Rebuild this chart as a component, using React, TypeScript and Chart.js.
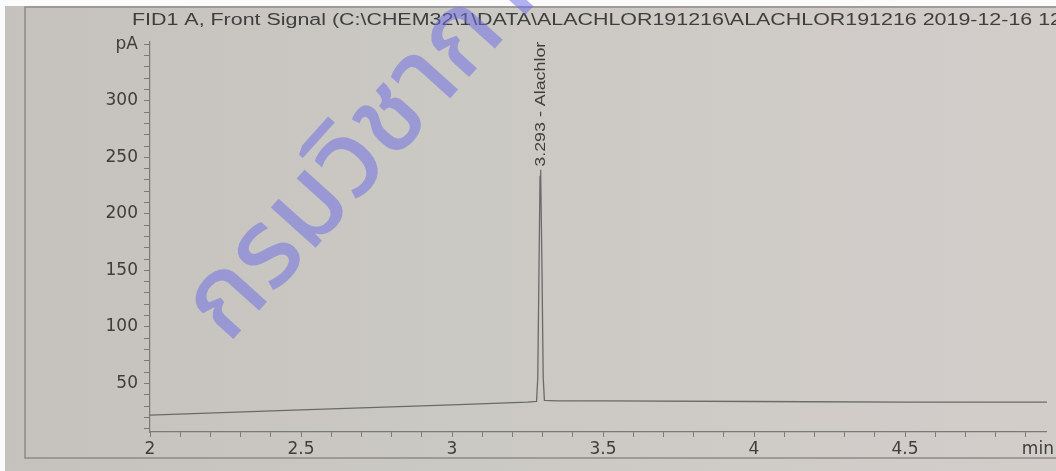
import React, { useEffect, useRef } from 'react';
import { Chart, registerables } from 'chart.js';

Chart.register(...registerables);

// ---- data ----
const titleText =
  'FID1 A, Front Signal (C:\\CHEM32\\1\\DATA\\ALACHLOR191216\\ALACHLOR191216 2019-12-16 12';
const peakLabel = '3.293 - Alachlor';
const watermarkText = 'กรมวิชาการเกษตร';

const retentionTimes = [
  2.0, 2.5, 3.0, 3.25, 3.28, 3.284, 3.288, 3.2915, 3.293, 3.2945, 3.298, 3.302, 3.306,
  3.35, 3.5, 4.0, 4.5, 4.97,
];
const signalPA = [
  22, 26.5, 31, 33.5, 34, 55, 150, 233, 239, 233, 150, 55, 35, 34.5, 34.5, 34, 33.5, 33.5,
];

const peakTime = 3.293;
const peakHeight = 239;

const xMajorTicks = [2, 2.5, 3, 3.5, 4, 4.5];
const yMajorTicks = [50, 100, 150, 200, 250, 300];
const xUnit = 'min';
const xUnitAt = 4.94;
const yUnit = 'pA';
const yUnitAt = 350;

const xMin = 2;
const xMax = 4.97;
const yMin = 7;
const yMax = 352;

const inkColor = '#3e3e3e';
const axisColor = '#7a7a7a';
const traceColor = '#6a6a6a';

const near = (a: number, b: number) => Math.abs(a - b) < 1e-6;

const decorPlugin = {
  id: 'decor',
  beforeDraw(chart: any) {
    const { ctx, width, height } = chart;
    ctx.save();
    const g = ctx.createLinearGradient(0, 0, width, 0);
    g.addColorStop(0, '#c5c2bd');
    g.addColorStop(0.45, '#cbc9c4');
    g.addColorStop(1, '#d3cdca');
    ctx.fillStyle = g;
    ctx.fillRect(0, 0, width, height);
    // paper edges
    ctx.fillStyle = '#fbfbfb';
    ctx.fillRect(0, 0, width, 6);
    ctx.fillRect(0, 0, 5, height);
    // printed frame
    ctx.strokeStyle = '#8d8b89';
    ctx.lineWidth = 1.5;
    ctx.beginPath();
    ctx.moveTo(width + 2, 7);
    ctx.lineTo(25, 7);
    ctx.lineTo(25, 458);
    ctx.lineTo(width + 2, 458);
    ctx.stroke();
    ctx.restore();
  },
  afterDraw(chart: any) {
    const { ctx } = chart;
    const xs = chart.scales.x;
    const ys = chart.scales.y;
    ctx.save();

    // title
    ctx.fillStyle = inkColor;
    ctx.font = '16px "Liberation Sans"';
    ctx.textBaseline = 'alphabetic';
    ctx.textAlign = 'left';
    const tw = ctx.measureText(titleText).width;
    ctx.save();
    ctx.translate(132, 25);
    ctx.scale(930 / tw, 1);
    ctx.fillText(titleText, 0, 0);
    ctx.restore();

    // peak annotation
    const px = xs.getPixelForValue(peakTime);
    const py = ys.getPixelForValue(peakHeight);
    ctx.save();
    ctx.font = '15px "Liberation Sans"';
    const lw = ctx.measureText(peakLabel).width;
    ctx.translate(px, py - 3);
    ctx.rotate(-Math.PI / 2);
    ctx.scale(125 / lw, 1);
    ctx.textBaseline = 'middle';
    ctx.textAlign = 'left';
    ctx.fillText(peakLabel, 0, 0);
    ctx.restore();

    // watermark
    ctx.save();
    ctx.fillStyle = 'rgba(110,110,228,0.52)';
    ctx.font = '500 110px "Noto Sans Thai", "Noto Sans", sans-serif';
    ctx.translate(228, 345);
    ctx.rotate((-48 * Math.PI) / 180);
    ctx.textBaseline = 'alphabetic';
    ctx.textAlign = 'left';
    ctx.fillText(watermarkText, 0, 0);
    ctx.restore();

    ctx.restore();
  },
};

export default function App() {
  const ref = useRef<HTMLCanvasElement | null>(null);

  useEffect(() => {
    if (!ref.current) return;
    const chart = new Chart(ref.current, {
      type: 'line',
      data: {
        datasets: [
          {
            data: retentionTimes.map((x, i) => ({ x, y: signalPA[i] })),
            borderColor: traceColor,
            borderWidth: 1.3,
            pointRadius: 0,
            tension: 0,
            fill: false,
          },
        ],
      },
      options: {
        responsive: false,
        animation: false,
        layout: { padding: { top: 42, right: 9, left: 0, bottom: 0 } },
        plugins: {
          legend: { display: false },
          tooltip: { enabled: false },
          title: { display: false },
        },
        scales: {
          x: {
            type: 'linear',
            min: xMin,
            max: xMax,
            afterBuildTicks: (s: any) => {
              const t: any[] = [];
              for (let i = 20; i <= 49; i++) t.push({ value: i / 10 });
              t.push({ value: xUnitAt });
              s.ticks = t;
            },
            afterFit: (s: any) => {
              s.height = 39;
            },
            grid: {
              drawOnChartArea: false,
              drawTicks: true,
              tickLength: 5,
              tickWidth: 1,
              tickColor: (c: any) =>
                c.tick && near(c.tick.value, xUnitAt) ? 'rgba(0,0,0,0)' : axisColor,
            },
            border: { display: true, color: axisColor, width: 1.2 },
            ticks: {
              autoSkip: false,
              maxRotation: 0,
              minRotation: 0,
              padding: 2,
              color: inkColor,
              font: { family: 'DejaVu Sans', size: 17 },
              callback: (v: any) => {
                const n = Number(v);
                if (near(n, xUnitAt)) return xUnit;
                const m = xMajorTicks.find((t) => near(t, n));
                return m !== undefined ? String(m) : '';
              },
            },
          },
          y: {
            type: 'linear',
            min: yMin,
            max: yMax,
            afterBuildTicks: (s: any) => {
              const t: any[] = [];
              for (let v = 10; v <= 350; v += 10) t.push({ value: v });
              s.ticks = t;
            },
            afterFit: (s: any) => {
              s.width = 150;
            },
            grid: {
              drawOnChartArea: false,
              drawTicks: true,
              tickLength: 6,
              tickWidth: 1,
              tickColor: axisColor,
            },
            border: { display: true, color: axisColor, width: 1.2 },
            ticks: {
              autoSkip: false,
              padding: 6,
              color: inkColor,
              font: { family: 'DejaVu Sans', size: 17 },
              callback: (v: any) => {
                const n = Number(v);
                if (near(n, yUnitAt)) return yUnit;
                const m = yMajorTicks.find((t) => near(t, n));
                return m !== undefined ? String(m) : '';
              },
            },
          },
        },
      },
      plugins: [decorPlugin],
    });
    return () => chart.destroy();
  }, []);

  return (
    <div style={{ position: 'fixed', left: 0, top: 0, width: 1056, height: 471 }}>
      <canvas ref={ref} width={1056} height={471} style={{ display: 'block' }} />
    </div>
  );
}
